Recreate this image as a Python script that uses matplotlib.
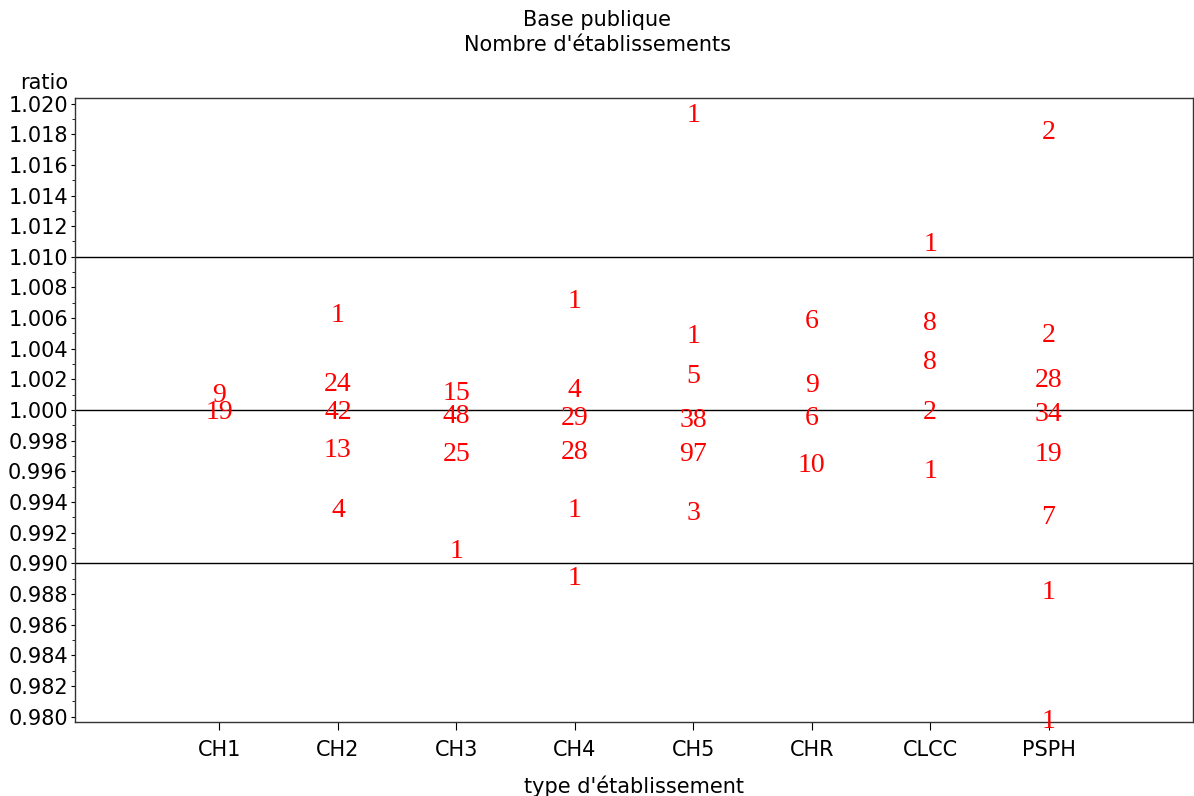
import matplotlib
matplotlib.use("Agg")
import matplotlib.pyplot as plt
from matplotlib.ticker import MultipleLocator, FormatStrFormatter

# categories (x) and the ratio / count pairs
types = ["CH1", "CH2", "CH3", "CH4", "CH5", "CHR", "CLCC", "PSPH"]

ch1_ratio = [1.00098, 0.99981]
ch1_n = [9, 19]
ch2_ratio = [1.0062, 1.0017, 0.99981, 0.99733, 0.99348]
ch2_n = [1, 24, 42, 13, 4]
ch3_ratio = [1.00111, 0.99955, 0.99707, 0.9908]
ch3_n = [15, 48, 25, 1]
ch4_ratio = [1.00711, 1.00125, 0.99948, 0.9972, 0.99348, 0.98898]
ch4_n = [1, 4, 29, 28, 1, 1]
ch5_ratio = [1.01925, 1.00477, 1.00216, 0.99935, 0.99713, 0.99322]
ch5_n = [1, 1, 5, 38, 97, 3]
chr_ratio = [1.00575, 1.00163, 0.99948, 0.99641]
chr_n = [6, 9, 6, 10]
clcc_ratio = [1.01083, 1.00568, 1.00313, 0.99987, 0.99596]
clcc_n = [1, 8, 8, 2, 1]
psph_ratio = [1.01814, 1.00484, 1.0019, 0.99968, 0.99713, 0.99302, 0.98813, 0.97971]
psph_n = [2, 2, 28, 34, 19, 7, 1, 1]

ref_lines = [1.010, 1.000, 0.990]

groups = [
    (ch1_ratio, ch1_n), (ch2_ratio, ch2_n), (ch3_ratio, ch3_n), (ch4_ratio, ch4_n),
    (ch5_ratio, ch5_n), (chr_ratio, chr_n), (clcc_ratio, clcc_n), (psph_ratio, psph_n),
]

plt.rcParams['font.family'] = ['DejaVu Sans']

fig = plt.figure(figsize=(11.94, 7.96), dpi=100)
ax = fig.add_axes([75 / 1194, 1 - 722 / 796, 1118 / 1194, 624 / 796])

for i, (ratios, counts) in enumerate(groups):
    for r, n in zip(ratios, counts):
        ax.text(i + 1, r, str(n), color='red', ha='center', va='center',
                fontsize=20, family='Liberation Serif', clip_on=False)

for y in ref_lines:
    ax.axhline(y, color='black', lw=1)

ax.set_xlim(1 - 1.22, len(types) + 1.22)
ax.set_ylim(0.979648, 1.020362)
ax.set_xticks(range(1, len(types) + 1))
ax.set_xticklabels(types, fontsize=15)
ax.yaxis.set_major_locator(MultipleLocator(0.002))
ax.yaxis.set_minor_locator(MultipleLocator(0.001))
ax.yaxis.set_major_formatter(FormatStrFormatter('%.3f'))
ax.tick_params(axis='y', labelsize=15, length=3, pad=2)
ax.tick_params(axis='y', which='minor', length=2)
ax.tick_params(axis='x', length=6, pad=7)

for s in ax.spines.values():
    s.set_color('#333333')
    s.set_linewidth(1)

ax.set_xlabel("type d'établissement", fontsize=15, labelpad=11)
ax.text(-0.006, 1.008, "ratio", transform=ax.transAxes, ha='right', va='bottom', fontsize=15)
fig.text(0.5, 1 - 20 / 796, "Base publique", ha='center', va='center', fontsize=15)
fig.text(0.5, 1 - 45 / 796, "Nombre d'établissements", ha='center', va='center', fontsize=15)

fig.savefig("out.png", dpi=100)
